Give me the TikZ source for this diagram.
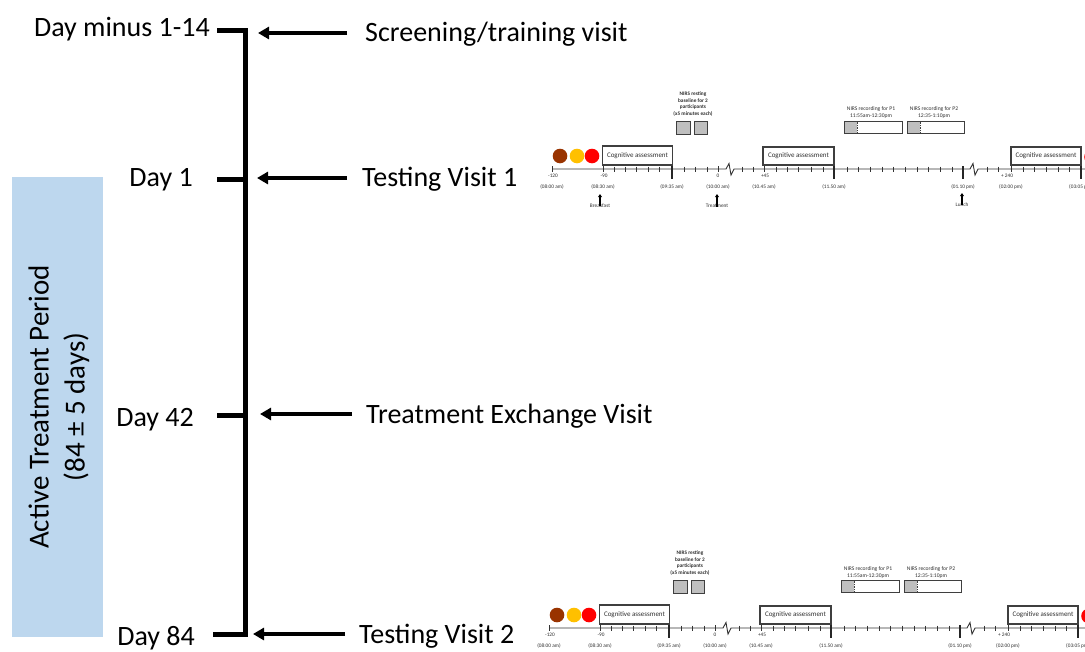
\documentclass[tikz,border=0pt]{standalone}
\usepackage{fontspec}
\setmainfont{Carlito}
\usetikzlibrary{arrows.meta}

\definecolor{periodblue}{HTML}{BDD7EE}
\definecolor{dotbrown}{RGB}{153,51,0}
\definecolor{dotamber}{HTML}{FFC000}
\definecolor{dotred}{HTML}{FF0000}
\definecolor{boxline}{HTML}{3F3F3F}
\definecolor{nirsgray}{HTML}{BFBFBF}
\definecolor{smalltext}{HTML}{303030}

\tikzset{
  bigtext/.style={font=\fontsize{28}{32}\selectfont, inner sep=0pt},
  barline/.style={line width=5pt, line join=miter, line cap=butt},
  pointer/.style={line width=3.2pt, -{Triangle[length=11pt,width=12pt]}},
  dot/.style={circle, inner sep=0pt, minimum size=14.6pt},
  cogbox/.style={draw=boxline, line width=1.1pt, inner sep=0pt,
    minimum width=70pt, minimum height=19pt, text=smalltext,
    font=\fontsize{7}{8}\selectfont},
  restbox/.style={draw=boxline, line width=1pt, fill=nirsgray, inner sep=0pt,
    minimum width=13.5pt, minimum height=13pt},
  recbox/.style={draw=boxline, line width=1pt, inner sep=0pt,
    minimum width=58pt, minimum height=12pt},
  tinylabel/.style={font=\fontsize{5.3}{6}\selectfont, inner sep=0pt, text=smalltext},
  notelabel/.style={font=\fontsize{5.6}{7}\selectfont, inner sep=0pt, text=smalltext, align=center},
  axisline/.style={line width=0.9pt, black!80},
  minortick/.style={line width=1pt, black!80},
  majortick/.style={line width=1.4pt, black!85},
  mealarrow/.style={line width=1.1pt, -{Triangle[length=3.2pt,width=4pt]}},
}

% one testing day: participant dots, sessions, NIRS slots and the time axis
\newcommand\dayplan[1]{%
  \node[dot, fill=dotbrown] (#1dotA) at (560,156) {};
  \node[dot, fill=dotamber] (#1dotB) at (577,156) {};
  \node[dot, fill=dotred]   (#1dotC) at (592,156) {};
  \node[dot, fill=dotred]   (#1dotD) at (1091.5,157) {};
  \node[cogbox] (#1cogA) at (637.5,155.5) {Cognitive assessment};
  \node[cogbox, minimum width=71pt, minimum height=18pt] (#1cogB) at (798.5,156) {Cognitive assessment};
  \node[cogbox, minimum width=70pt, minimum height=18pt] (#1cogC) at (1046,156) {Cognitive assessment};
  % resting baseline
  \node[notelabel, font=\bfseries\fontsize{5.3}{6.4}\selectfont] (#1rest) at (693,104)
    {NIRS resting\\baseline for 2\\participants\\(x5 minutes each)};
  \node[restbox] (#1restA) at (683.5,127.5) {};
  \node[restbox] (#1restB) at (701,127.5) {};
  % NIRS recordings
  \node[notelabel] (#1recAtxt) at (871,113) {NIRS recording for P1\\11:55am-12:30pm};
  \node[notelabel] (#1recBtxt) at (934,113) {NIRS recording for P2\\12:35-1:10pm};
  \fill[nirsgray] (844,121) rectangle (857,133);
  \fill[nirsgray] (907,121) rectangle (920,133);
  \node[recbox] (#1recA) at (873,127) {};
  \node[recbox, minimum width=57pt] (#1recB) at (935.5,127) {};
  \draw[boxline, densely dotted, line width=0.7pt] (857,121.5) -- (857,132.5);
  \draw[boxline, densely dotted, line width=0.7pt] (920,121.5) -- (920,132.5);
  % time axis with its two breaks
  \draw[axisline] (552,169) -- (726,169) -- (729,163.5) -- (731,175) -- (734,169) -- (970,169)
    -- (973,163.5) -- (975,175) -- (978,169) -- (1090,169);
  \foreach \t in {614,625,636,648,659,684,695,707,742,753,776,787,798,811,823,
                  847,858,870,882,893,905,917,928,940,952,987,998,1023,1034,1046,1058,1069}
    \draw[minortick] (\t,166.5) -- (\t,171.5);
  \foreach \t in {552,603,718,764,1011}
    \draw[minortick] (\t,166) -- (\t,172);
  \foreach \t in {672,834,963,1081}
    \draw[majortick] (\t,166) -- (\t,178.5);
  % times
  \node[tinylabel] (#1tA) at (553,176) {-120};
  \node[tinylabel] (#1tB) at (604,176) {-90};
  \node[tinylabel] (#1tC) at (718,176) {0};
  \node[tinylabel] (#1tD) at (765,176) {+45};
  \node[tinylabel] (#1tE) at (1007,176) {+ 240};
  \node[tinylabel] (#1cA) at (552,187) {(08:00 am)};
  \node[tinylabel] (#1cB) at (603,187) {(08:30 am)};
  \node[tinylabel] (#1cC) at (672,187) {(09:35 am)};
  \node[tinylabel] (#1cD) at (718,187) {(10:00 am)};
  \node[tinylabel] (#1cE) at (764,187) {(10.45 am)};
  \node[tinylabel] (#1cF) at (834,187) {(11.50 am)};
  \node[tinylabel] (#1cG) at (963,187) {(01.10 pm)};
  \node[tinylabel] (#1cH) at (1011,187) {(02:00 pm)};
  \node[tinylabel] (#1cI) at (1081,187) {(03:05 pm)};
  % meals and treatment
  \node[tinylabel] (#1mealA) at (600,206) {Breakfast};
  \node[tinylabel] (#1mealB) at (717,206) {Treatment};
  \node[tinylabel] (#1mealC) at (962,205) {Lunch};
  \coordinate (#1upA) at (600,194);
  \coordinate (#1upB) at (717,194);
  \coordinate (#1upC) at (962,193);
  \draw[mealarrow] ([yshift=-2.5pt]#1mealA.north) -- (#1upA);
  \draw[mealarrow] ([yshift=-2.5pt]#1mealB.north) -- (#1upB);
  \draw[mealarrow] ([yshift=-2.5pt]#1mealC.north) -- (#1upC);
}

\begin{document}
\begin{tikzpicture}[x=1pt, y=-1pt]
  \useasboundingbox (0,0) rectangle (1085,651);
  \clip (0,0) rectangle (1085,651);
  \fill[white] (0,0) rectangle (1085,651);

  % active treatment period band
  \node[fill=periodblue, inner sep=0pt, minimum width=91pt, minimum height=460pt] (band) at (57.5,407) {};
  \node[rotate=90, align=center, inner sep=0pt,
        font=\fontsize{29}{36}\selectfont] (period) at (59,407)
    {Active Treatment Period\\(84 ± 5 days)};

  % study timeline bar
  \draw[barline] (217,30.5) -- (245.5,30.5) -- (245.5,634) -- (213,634);
  \draw[barline] (217,179) -- (245.5,179);
  \draw[barline] (217,415) -- (245.5,415);

  % days
  \node[bigtext, anchor=base east] (dayscr) at (210,36) {Day minus 1-14};
  \node[bigtext, anchor=base east] (dayone) at (193,186) {Day 1};
  \node[bigtext, anchor=base east] (dayfortytwo) at (194,426) {Day 42};
  \node[bigtext, anchor=base east] (dayeightyfour) at (195,645) {Day 84};

  % visits
  \node[bigtext, anchor=base west] (vscr) at (365,41) {Screening/training visit};
  \node[bigtext, anchor=base west] (vtone) at (362,186) {Testing Visit 1};
  \node[bigtext, anchor=base west] (vexch) at (366,423) {Treatment Exchange Visit};
  \node[bigtext, anchor=base west] (vttwo) at (359,643) {Testing Visit 2};

  \coordinate (tipA) at (258,33);
  \coordinate (tipB) at (257,178);
  \coordinate (tipC) at (260,414);
  \coordinate (tipD) at (253,634);
  \draw[pointer] (vscr.west |- tipA) ++(-18,0) -- (tipA);
  \draw[pointer] (vtone.west |- tipB) ++(-15,0) -- (tipB);
  \draw[pointer] (vexch.west |- tipC) ++(-14,0) -- (tipC);
  \draw[pointer] (vttwo.west |- tipD) ++(-14,0) -- (tipD);

  % testing day schedules
  \dayplan{first}
  \begin{scope}[shift={(-3,459)}]
    \dayplan{second}
  \end{scope}
\end{tikzpicture}
\end{document}
